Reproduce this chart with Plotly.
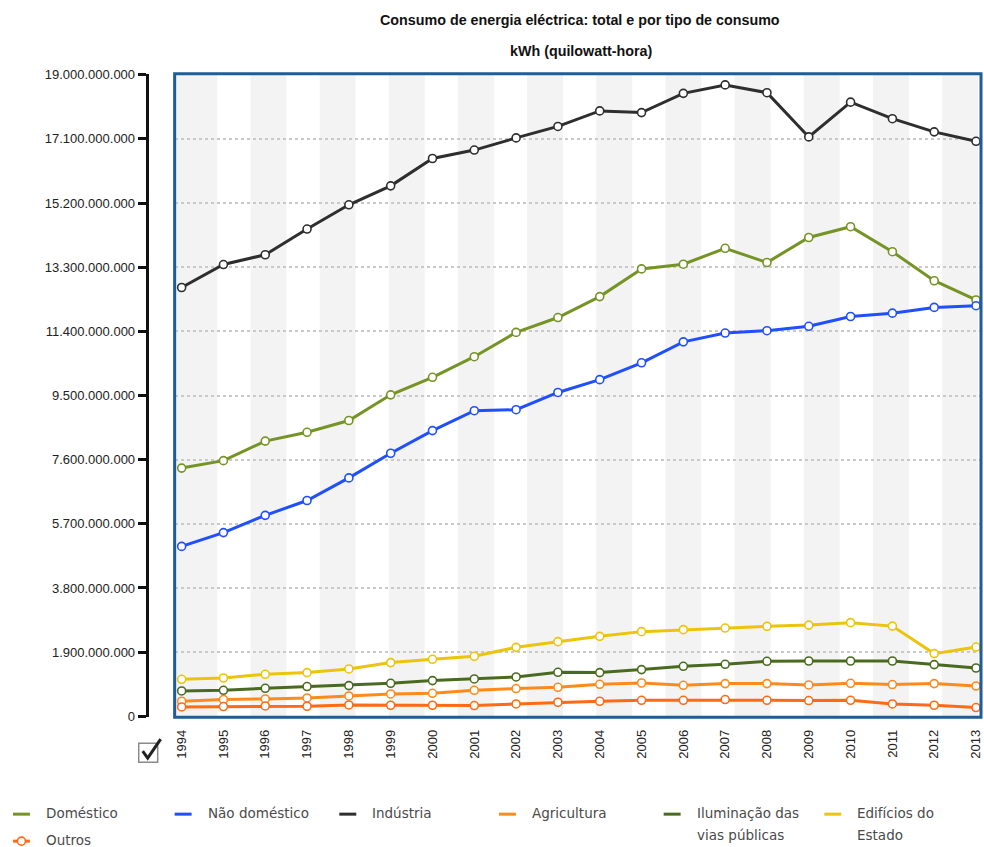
import plotly.graph_objects as go

# ---- data (kWh) -------------------------------------------------------------
years = list(range(1994, 2014))

domestico = [7.35e9, 7.57e9, 8.15e9, 8.41e9, 8.76e9, 9.52e9, 10.04e9, 10.65e9, 11.37e9, 11.81e9,
             12.43e9, 13.25e9, 13.39e9, 13.86e9, 13.44e9, 14.18e9, 14.50e9, 13.76e9, 12.90e9, 12.33e9]
nao_domestico = [5.03e9, 5.44e9, 5.95e9, 6.39e9, 7.06e9, 7.79e9, 8.46e9, 9.05e9, 9.08e9, 9.59e9,
                 9.97e9, 10.47e9, 11.09e9, 11.35e9, 11.42e9, 11.55e9, 11.84e9, 11.94e9, 12.11e9, 12.16e9]
industria = [12.70e9, 13.38e9, 13.67e9, 14.43e9, 15.15e9, 15.71e9, 16.52e9, 16.77e9, 17.13e9, 17.47e9,
             17.93e9, 17.88e9, 18.45e9, 18.70e9, 18.47e9, 17.16e9, 18.19e9, 17.70e9, 17.31e9, 17.03e9]
agricultura = [0.444e9, 0.494e9, 0.512e9, 0.541e9, 0.601e9, 0.660e9, 0.680e9, 0.769e9, 0.820e9, 0.858e9,
               0.947e9, 0.985e9, 0.917e9, 0.967e9, 0.967e9, 0.926e9, 0.976e9, 0.938e9, 0.967e9, 0.896e9]
iluminacao = [0.749e9, 0.769e9, 0.828e9, 0.879e9, 0.908e9, 0.976e9, 1.056e9, 1.104e9, 1.163e9, 1.302e9,
              1.293e9, 1.382e9, 1.479e9, 1.538e9, 1.627e9, 1.636e9, 1.636e9, 1.636e9, 1.530e9, 1.429e9]
edificios = [1.095e9, 1.133e9, 1.243e9, 1.293e9, 1.400e9, 1.589e9, 1.686e9, 1.775e9, 2.041e9, 2.210e9,
             2.367e9, 2.506e9, 2.565e9, 2.612e9, 2.663e9, 2.700e9, 2.772e9, 2.670e9, 1.855e9, 2.050e9]
outros = [0.275e9, 0.287e9, 0.305e9, 0.296e9, 0.334e9, 0.325e9, 0.325e9, 0.317e9, 0.364e9, 0.414e9,
          0.444e9, 0.473e9, 0.473e9, 0.494e9, 0.473e9, 0.464e9, 0.473e9, 0.364e9, 0.325e9, 0.257e9]

series = [
    ("Doméstico", domestico, "#759425"),
    ("Não doméstico", nao_domestico, "#1f4fff"),
    ("Indústria", industria, "#2e2e2e"),
    ("Agricultura", agricultura, "#ff8a1c"),
    ("Iluminação das vias públicas", iluminacao, "#4a6b1f"),
    ("Edifícios do Estado", edificios, "#ecc40c"),
    ("Outros", outros, "#ff6a14"),
]

title_text = "Consumo de energia eléctrica: total e por tipo de consumo"
subtitle_text = "kWh (quilowatt-hora)"

# ---- page geometry (pixels) ------------------------------------------------
W, H = 984, 847
BOX_L, BOX_R, BOX_T, BOX_B = 174, 983, 73, 717
AXIS_X = 146
# vertical mapping of the rendered page onto the final picture
V_SCALE, V_OFFSET = 0.9855, 5.15


def px(x):
    return x / W


def py(y):
    return 1 - ((y - V_OFFSET) / V_SCALE) / H


fig = go.Figure()

draw_order = [2, 0, 1, 5, 4, 3, 6]
for i in draw_order:
    name, vals, color = series[i]
    fig.add_trace(go.Scatter(
        x=years, y=vals, name=name, mode="lines+markers",
        line=dict(color=color, width=3),
        marker=dict(size=8, color="white", line=dict(color=color, width=1.6)),
        showlegend=False,
        hovertemplate="%{x}: %{y:,.0f} kWh<extra>" + name + "</extra>",
    ))

shapes = []
# alternating vertical background bands
band_start, band_period, band_width = 180.7, 69.3, 36
k = 0
while True:
    s = band_start + band_period * k
    if s >= BOX_R:
        break
    x0 = max(BOX_L, s if k else BOX_L)
    x1 = min(BOX_R, s + band_width)
    shapes.append(dict(type="rect", xref="paper", yref="paper",
                       x0=px(x0), x1=px(x1), y0=py(BOX_B), y1=py(BOX_T),
                       fillcolor="#f3f3f3", line=dict(width=0), layer="below"))
    k += 1

# plot frame
shapes.append(dict(type="rect", xref="paper", yref="paper",
                   x0=px(BOX_L), x1=px(BOX_R - 1), y0=py(BOX_B), y1=py(BOX_T),
                   line=dict(color="#1d5d98", width=3), layer="above"))

# check box under the axis
shapes.append(dict(type="rect", xref="paper", yref="paper",
                   x0=px(138), x1=px(157), y0=py(762), y1=py(743),
                   line=dict(color="#8a8a8a", width=1.5), fillcolor="white"))
shapes.append(dict(type="path", xref="paper", yref="paper",
                   path=f"M {px(142)} {py(751)} L {px(147)} {py(758)} L {px(160)} {py(739)}",
                   line=dict(color="#222222", width=3)))

annotations = [
    dict(text=f"<b>{title_text}</b>", x=px(580), y=py(19), xref="paper", yref="paper",
         showarrow=False, xanchor="center", yanchor="middle",
         font=dict(family="Liberation Sans, Arial", size=14.3, color="#111111")),
    dict(text=f"<b>{subtitle_text}</b>", x=px(581), y=py(50), xref="paper", yref="paper",
         showarrow=False, xanchor="center", yanchor="middle",
         font=dict(family="Liberation Sans, Arial", size=14.3, color="#111111")),
]

# legend drawn as line keys and labels
legend_font = dict(family="DejaVu Sans", size=13.5, color="#4a4a4a")
legend_items = [
    (0, 43, 813, ["Doméstico"]),
    (1, 205, 813, ["Não doméstico"]),
    (2, 370, 813, ["Indústria"]),
    (3, 530, 813, ["Agricultura"]),
    (4, 695, 813, ["Iluminação das", "vias públicas"]),
    (5, 856, 813, ["Edifícios do", "Estado"]),
    (6, 43, 840, ["Outros"]),
]
for idx, tx, ty, lines in legend_items:
    color = series[idx][2]
    shapes.append(dict(type="line", xref="paper", yref="paper",
                       x0=px(tx - 31), x1=px(tx - 14), y0=py(ty + 1), y1=py(ty + 1),
                       line=dict(color=color, width=3)))
    if series[idx][0] == "Outros":
        shapes.append(dict(type="circle", xref="paper", yref="paper",
                           x0=px(tx - 26.5), x1=px(tx - 18.5), y0=py(ty + 5), y1=py(ty - 3),
                           line=dict(color=color, width=1.6), fillcolor="white"))
    for j, line_txt in enumerate(lines):
        annotations.append(dict(text=line_txt, x=px(tx), y=py(ty + 22 * j), xref="paper", yref="paper",
                                showarrow=False, xanchor="left", yanchor="middle", font=legend_font))

y_per_px = 19e9 / (716 - 74)
x_per_px = 19 / (977 - 181)

fig.update_layout(
    width=W, height=H, autosize=False,
    margin=dict(l=0, r=0, t=0, b=0, pad=0),
    paper_bgcolor="white", plot_bgcolor="white",
    separators=",.",
    showlegend=False,
    shapes=shapes, annotations=annotations,
    xaxis=dict(
        domain=[px(BOX_L), px(BOX_R)],
        range=[1994 - (181 - BOX_L) * x_per_px, 2013 + (BOX_R - 977) * x_per_px],
        tickmode="array", tickvals=years, ticktext=[str(y) for y in years],
        tickangle=-90, ticks="", ticklabelstandoff=9, ticklabeloverflow="allow",
        showgrid=False, zeroline=False, showline=False,
        tickfont=dict(family="Liberation Sans, Arial", size=13, color="#222222"),
    ),
    yaxis=dict(
        domain=[py(BOX_B), py(BOX_T)],
        range=[-(BOX_B - 716) * y_per_px, 19e9 + (74 - BOX_T) * y_per_px],
        anchor="free", position=px(AXIS_X), side="left",
        tickmode="linear", tick0=0, dtick=1.9e9, tickformat=",.0f",
        ticks="outside", ticklen=8, tickwidth=3, tickcolor="#111111",
        showline=True, linecolor="#111111", linewidth=3,
        showgrid=True, gridcolor="#c9c9c9", gridwidth=1.5, griddash="dot",
        zeroline=False,
        tickfont=dict(family="Liberation Sans, Arial", size=13, color="#222222"),
    ),
)

fig.write_html("out.html")
